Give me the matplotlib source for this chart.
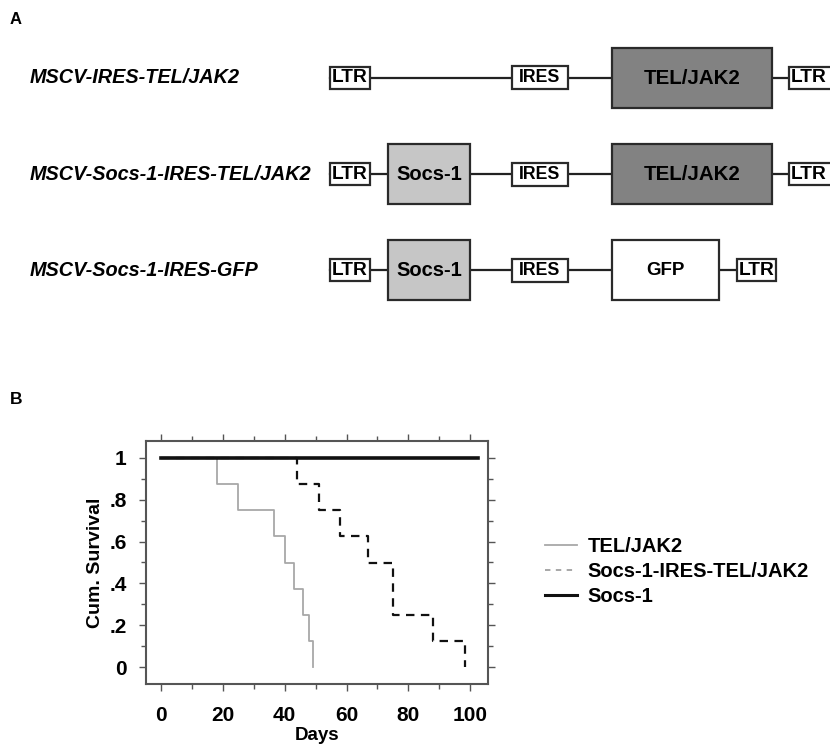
import matplotlib
matplotlib.use("Agg")
import matplotlib.pyplot as plt
from matplotlib.patches import Rectangle
from matplotlib.lines import Line2D
from matplotlib.ticker import FixedLocator, FixedFormatter, MultipleLocator

plt.rcParams['font.family'] = ['Liberation Sans', 'DejaVu Sans']

# ---- Panel A: vector constructs ----
construct_names = ['MSCV-IRES-TEL/JAK2', 'MSCV-Socs-1-IRES-TEL/JAK2', 'MSCV-Socs-1-IRES-GFP']
construct_parts = [
    ['LTR', 'IRES', 'TEL/JAK2', 'LTR'],
    ['LTR', 'Socs-1', 'IRES', 'TEL/JAK2', 'LTR'],
    ['LTR', 'Socs-1', 'IRES', 'GFP', 'LTR'],
]

# ---- Panel B: Kaplan-Meier survival ----
tel_days = [0, 18, 25, 36.5, 40, 43, 46, 48, 49]
tel_surv = [1, 0.875, 0.75, 0.625, 0.5, 0.375, 0.25, 0.125, 0]
socs_tel_days = [0, 44, 51, 58, 67, 75, 88, 98.5]
socs_tel_surv = [1, 0.875, 0.75, 0.625, 0.5, 0.25, 0.125, 0]
socs_days = [0, 102.5]
socs_surv = [1, 1]
series_labels = ['TEL/JAK2', 'Socs-1-IRES-TEL/JAK2', 'Socs-1']
y_ticks = [0, 0.2, 0.4, 0.6, 0.8, 1.0]
y_tick_labels = ['0', '.2', '.4', '.6', '.8', '1']

# layout of the diagram, in pixels (x0, x1) per part
part_x = [
    [(330, 370), (512, 568), (612, 772), (789, 840)],
    [(330, 370), (388, 470), (512, 568), (612, 772), (789, 840)],
    [(330, 370), (388, 470), (512, 568), (612, 719), (737, 776)],
]
row_y = [77.5, 174, 270]
part_style = {
    'LTR': dict(h=22, fc='white', fs=13.8),
    'IRES': dict(h=23, fc='white', fs=12.8),
    'TEL/JAK2': dict(h=60, fc='#828282', fs=14.8),
    'Socs-1': dict(h=60, fc='#c6c6c6', fs=14.5),
    'GFP': dict(h=60, fc='white', fs=13.5),
}

fig = plt.figure(figsize=(8.3, 7.46), dpi=100)
bg = fig.add_axes([0, 0, 1, 1])
bg.set_xlim(0, 830)
bg.set_ylim(746, 0)
bg.axis('off')

bg.text(10, 20, 'A', fontsize=12, fontweight='bold', va='center', ha='left')
bg.text(10, 399, 'B', fontsize=12.5, fontweight='bold', va='center', ha='left')

for name, parts, xs, y in zip(construct_names, construct_parts, part_x, row_y):
    bg.text(30, y, name, fontsize=14.3, fontweight='bold', style='italic',
            va='center', ha='left')
    bg.plot([xs[0][0], xs[-1][0]], [y, y], color='#222222', lw=1.6, zorder=1)
    for part, (x0, x1) in zip(parts, xs):
        st = part_style[part]
        bg.add_patch(Rectangle((x0, y - st['h'] / 2), x1 - x0, st['h'],
                               facecolor=st['fc'], edgecolor='#2a2a2a', lw=1.6, zorder=2))
        bg.text((x0 + x1) / 2 if x1 < 830 else x0 + 20, y + 0.5, part,
                fontsize=st['fs'], fontweight='bold', ha='center', va='center', zorder=3)

# ---- survival plot ----
ax = fig.add_axes([146 / 830, 1 - 684 / 746, 342 / 830, 243 / 746])
ax.step(tel_days, tel_surv, where='post', color='#a8a8a8', lw=1.3)
ax.step(socs_tel_days, socs_tel_surv, where='post', color='#111111', lw=1.6,
        linestyle=(0, (3.8, 2.9)))
ax.plot(socs_days, socs_surv, color='#111111', lw=2.6)

ax.set_xlim(-4.9, 105.8)
ax.set_ylim(-0.08, 1.08)
ax.xaxis.set_major_locator(MultipleLocator(20))
ax.xaxis.set_minor_locator(MultipleLocator(10))
ax.yaxis.set_major_locator(FixedLocator(y_ticks))
ax.yaxis.set_major_formatter(FixedFormatter(y_tick_labels))
ax.yaxis.set_minor_locator(MultipleLocator(0.1))
ax.tick_params(which='both', direction='out', top=True, right=True, color='#555555', width=1)
ax.tick_params(which='major', length=5)
ax.tick_params(which='minor', length=3.5)
ax.tick_params(axis='x', which='major', pad=11, labelsize=15)
ax.tick_params(axis='y', which='major', pad=9, labelsize=15)
for lab in ax.get_xticklabels() + ax.get_yticklabels():
    lab.set_fontweight('bold')
for sp in ax.spines.values():
    sp.set_color('#555555')
    sp.set_linewidth(1.5)

ax.set_xlabel('Days', fontsize=13.5, fontweight='bold', labelpad=1)
ax.set_ylabel('Cum. Survival', fontsize=14, fontweight='bold', labelpad=4)

handles = [
    Line2D([], [], color='#a8a8a8', lw=1.3),
    Line2D([], [], color='#a0a0a0', lw=1.3, linestyle=(0, (3, 3))),
    Line2D([], [], color='#111111', lw=2.2),
]
fig.legend(handles, series_labels, loc='upper left', bbox_to_anchor=(0.6566, 0.2795),
           bbox_transform=fig.transFigure, frameon=False, borderpad=0, borderaxespad=0,
           handlelength=1.6, handletextpad=0.5, labelspacing=0.29,
           prop=dict(size=14.5, weight='bold'))

fig.savefig('out.png', dpi=100)
